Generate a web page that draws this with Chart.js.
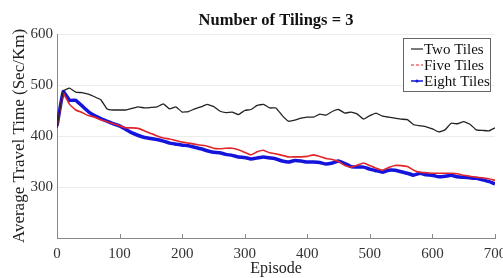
<!DOCTYPE html>
<html>
<head>
<meta charset="utf-8">
<script src="https://cdn.jsdelivr.net/npm/chart.js@4.4.1/dist/chart.umd.min.js"></script>
<style>
  html, body { margin: 0; padding: 0; background: #fff; }
  #wrap { width: 503px; height: 278px; }
</style>
</head>
<body>
<div id="wrap"><canvas id="chart" width="503" height="278"></canvas></div>
<script>
var episodes = [];
for (var i = 0; i <= 700; i += 10) episodes.push(i);

var twoTiles = [416, 488, 494, 486, 485, 482, 477, 471, 453, 451,
  451, 451, 454, 457, 455, 456, 457, 463, 453, 457,
  447, 448, 453, 457, 462, 458, 449, 446, 447, 442,
  450, 452, 460, 462, 455, 455, 440, 429, 431, 435,
  437, 437, 443, 441, 448, 452, 445, 447, 443, 433,
  440, 445, 439, 437, 435, 433, 432, 422, 420, 418,
  414, 408, 412, 425, 424, 428, 423, 412, 411, 410, 416];

var fiveTiles = [416, 484, 462, 451, 446, 440, 437, 432, 428, 424,
  420, 416, 416, 415, 410, 405, 400, 396, 394, 391,
  388, 386, 384, 382, 380, 376, 375, 376, 376, 373,
  368, 363, 369, 372, 367, 365, 362, 359, 359, 359,
  360, 363, 360, 356, 354, 350, 342, 339, 343, 347,
  342, 337, 333, 338, 342, 342, 340, 333, 329, 328,
  327, 327, 327, 327, 326, 323, 321, 319, 318, 316, 313];

var eightTiles = [420, 487, 470, 470, 459, 448, 440, 434, 429, 424,
  420, 413, 406, 401, 397, 395, 393, 390, 386, 384,
  382, 381, 378, 375, 371, 368, 367, 364, 362, 359,
  358, 355, 357, 359, 357, 355, 351, 349, 352, 351,
  349, 349, 348, 345, 347, 351, 346, 340, 339, 339,
  335, 332, 329, 333, 333, 330, 327, 323, 327, 324,
  323, 320, 321, 323, 320, 319, 318, 317, 314, 311, 306];

var xTicks = [0, 100, 200, 300, 400, 500, 600, 700];
var yTicks = [300, 400, 500, 600];
var chartTitle = 'Number of Tilings = 3';

var serif = "'Liberation Serif', 'Times New Roman', serif";

function pts(vals) {
  return vals.map(function (v, k) { return { x: episodes[k], y: v }; });
}

// title centred over the plot area, like the original figure
var plotTitle = {
  id: 'plotTitle',
  afterDraw: function (chart) {
    var ctx = chart.ctx;
    var ca = chart.chartArea;
    ctx.save();
    ctx.font = 'bold 16.5px ' + serif;
    ctx.fillStyle = '#111';
    ctx.textAlign = 'center';
    ctx.textBaseline = 'middle';
    ctx.fillText(chartTitle, (ca.left + ca.right) / 2, 21);
    ctx.restore();
  }
};

// legend box inside the plot, top right
var boxLegend = {
  id: 'boxLegend',
  afterDraw: function (chart) {
    var ctx = chart.ctx;
    var ca = chart.chartArea;
    var x0 = ca.right - 92, y0 = ca.top + 4, w = 87, h = 53;
    ctx.save();
    ctx.fillStyle = '#fff';
    ctx.fillRect(x0, y0, w, h);
    ctx.strokeStyle = '#666';
    ctx.lineWidth = 1;
    ctx.strokeRect(x0 + 0.5, y0 + 0.5, w, h);
    ctx.font = '15px ' + serif;
    ctx.textBaseline = 'middle';
    chart.data.datasets.forEach(function (ds, k) {
      var yy = y0 + 11 + k * 16;
      ctx.strokeStyle = ds.borderColor;
      ctx.lineWidth = k === 2 ? 1.5 : 1.2;
      ctx.setLineDash(k === 1 ? [3, 2] : []);
      ctx.beginPath();
      ctx.moveTo(x0 + 8, yy);
      ctx.lineTo(x0 + 20, yy);
      ctx.stroke();
      ctx.setLineDash([]);
      if (k === 2) {
        ctx.fillStyle = ds.borderColor;
        ctx.beginPath();
        ctx.arc(x0 + 14, yy, 1.5, 0, Math.PI * 2);
        ctx.fill();
      }
      ctx.fillStyle = '#111';
      ctx.fillText(ds.label, x0 + 21, yy + 1);
    });
    ctx.restore();
  }
};

// small inward ticks on the x axis
var inTicks = {
  id: 'inTicks',
  afterDatasetsDraw: function (chart) {
    var ctx = chart.ctx;
    var xs = chart.scales.x;
    var b = chart.chartArea.bottom;
    ctx.save();
    ctx.strokeStyle = '#888';
    ctx.lineWidth = 1;
    xTicks.forEach(function (t) {
      var px = Math.round(xs.getPixelForValue(t)) + 0.5;
      ctx.beginPath();
      ctx.moveTo(px, b);
      ctx.lineTo(px, b - 4);
      ctx.stroke();
    });
    ctx.restore();
  }
};

new Chart(document.getElementById('chart'), {
  type: 'line',
  data: {
    datasets: [{
      label: 'Two Tiles',
      data: pts(twoTiles),
      borderColor: '#222222',
      borderWidth: 1.3,
      pointRadius: 0,
      tension: 0.1
    }, {
      label: 'Five Tiles',
      data: pts(fiveTiles),
      borderColor: '#e0262a',
      borderWidth: 1.6,
      pointRadius: 0,
      tension: 0.1
    }, {
      label: 'Eight Tiles',
      data: pts(eightTiles),
      borderColor: '#1414dc',
      borderWidth: 3.5,
      pointRadius: 0,
      tension: 0.1
    }]
  },
  options: {
    responsive: false,
    animation: false,
    layout: { padding: { top: 34, right: 8, left: 0, bottom: 0 } },
    plugins: {
      legend: { display: false },
      tooltip: { enabled: false },
      title: { display: false }
    },
    scales: {
      x: {
        type: 'linear',
        min: 0,
        max: 700,
        afterBuildTicks: function (s) { s.ticks = xTicks.map(function (v) { return { value: v }; }); },
        afterFit: function (s) { s.height = 40; s.paddingLeft = 0; s.paddingRight = 0; },
        grid: { display: true, drawOnChartArea: false, drawTicks: false, color: '#888' },
        border: { color: '#888' },
        ticks: { color: '#333', padding: 7, maxRotation: 0, font: { family: serif, size: 15 } },
        title: {
          display: true,
          text: 'Episode',
          color: '#222',
          padding: { top: 1, bottom: 0 },
          font: { family: serif, size: 16 }
        }
      },
      y: {
        min: 200,
        max: 600,
        afterBuildTicks: function (s) { s.ticks = [200].concat(yTicks).map(function (v) { return { value: v }; }); },
        afterFit: function (s) { s.width = 57; },
        grid: { color: '#ececec', drawTicks: false },
        border: { color: '#888' },
        ticks: {
          color: '#333',
          padding: 4,
          font: { family: serif, size: 15 },
          callback: function (v) { return v === 200 ? '' : v; }
        },
        title: {
          display: true,
          text: 'Average Travel Time (Sec/Km)',
          color: '#222',
          padding: { top: 9, bottom: 0 },
          font: { family: serif, size: 17 }
        }
      }
    }
  },
  plugins: [plotTitle, boxLegend, inTicks]
});
</script>
</body>
</html>
